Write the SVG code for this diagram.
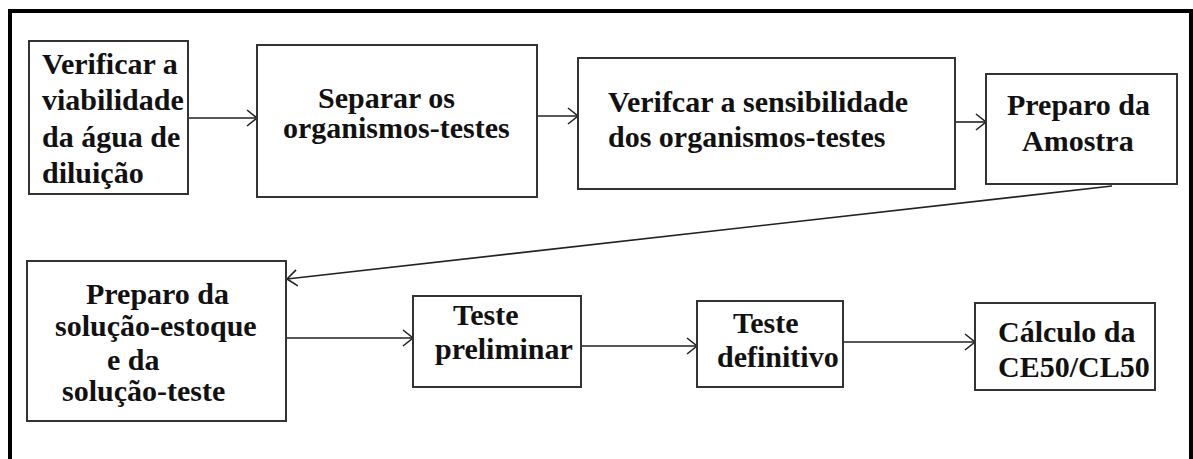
<svg xmlns="http://www.w3.org/2000/svg" width="1193" height="459" viewBox="0 0 1193 459">
<style>
.box{fill:#fff;stroke:#333;stroke-width:2}
.t{font-family:"Liberation Serif","Times New Roman",serif;font-weight:bold;font-size:30px;fill:#111}
.c{fill:none;stroke:#222;stroke-width:1.6}
</style>
<defs>
<marker id="ah" markerUnits="userSpaceOnUse" markerWidth="14" markerHeight="18" refX="12" refY="9" orient="auto">
<path d="M2,1 L12,9 L2,17" fill="none" stroke="#222" stroke-width="1.6"/>
</marker>
</defs>
<rect width="1193" height="459" fill="#fff"/>
<path d="M10,459 V11 H1191 V459" fill="none" stroke="#000" stroke-width="4"/>
<g id="connectors">
<line class="c" x1="188" y1="118" x2="257" y2="118" marker-end="url(#ah)"/>
<line class="c" x1="537" y1="116" x2="578" y2="116" marker-end="url(#ah)"/>
<line class="c" x1="955" y1="122" x2="986" y2="122" marker-end="url(#ah)"/>
<line class="c" x1="1112" y1="186" x2="287" y2="279" marker-end="url(#ah)"/>
<line class="c" x1="286" y1="338" x2="413" y2="338" marker-end="url(#ah)"/>
<line class="c" x1="581" y1="346" x2="697" y2="346" marker-end="url(#ah)"/>
<line class="c" x1="843" y1="342" x2="975" y2="342" marker-end="url(#ah)"/>
</g>
<g id="n1">
<rect class="box" x="29" y="41" width="159" height="153"/>
<text class="t" x="42" y="74">Verificar a</text>
<text class="t" x="42" y="110">viabilidade</text>
<text class="t" x="42" y="147">da água de</text>
<text class="t" x="42" y="183">diluição</text>
</g>
<g id="n2">
<rect class="box" x="257" y="45" width="280" height="152"/>
<text class="t" x="318" y="108">Separar os</text>
<text class="t" x="283" y="138">organismos-testes</text>
</g>
<g id="n3">
<rect class="box" x="578" y="58" width="377" height="131"/>
<text class="t" x="608" y="112">Verifcar a sensibilidade</text>
<text class="t" x="608" y="147">dos organismos-testes</text>
</g>
<g id="n4">
<rect class="box" x="986" y="74" width="191" height="110"/>
<text class="t" x="1007" y="115">Preparo da</text>
<text class="t" x="1022" y="151">Amostra</text>
</g>
<g id="n5">
<rect class="box" x="27" y="261" width="259" height="160"/>
<text class="t" x="86" y="304">Preparo da</text>
<text class="t" x="55" y="336">solução-estoque</text>
<text class="t" x="107" y="370">e da</text>
<text class="t" x="62" y="401">solução-teste</text>
</g>
<g id="n6">
<rect class="box" x="413" y="296" width="168" height="91"/>
<text class="t" x="453" y="325">Teste</text>
<text class="t" x="435" y="359">preliminar</text>
</g>
<g id="n7">
<rect class="box" x="697" y="301" width="146" height="86"/>
<text class="t" x="733" y="333">Teste</text>
<text class="t" x="717" y="367">definitivo</text>
</g>
<g id="n8">
<rect class="box" x="975" y="303" width="180" height="87"/>
<text class="t" x="998" y="342">Cálculo da</text>
<text class="t" x="998" y="377">CE50/CL50</text>
</g>
</svg>
